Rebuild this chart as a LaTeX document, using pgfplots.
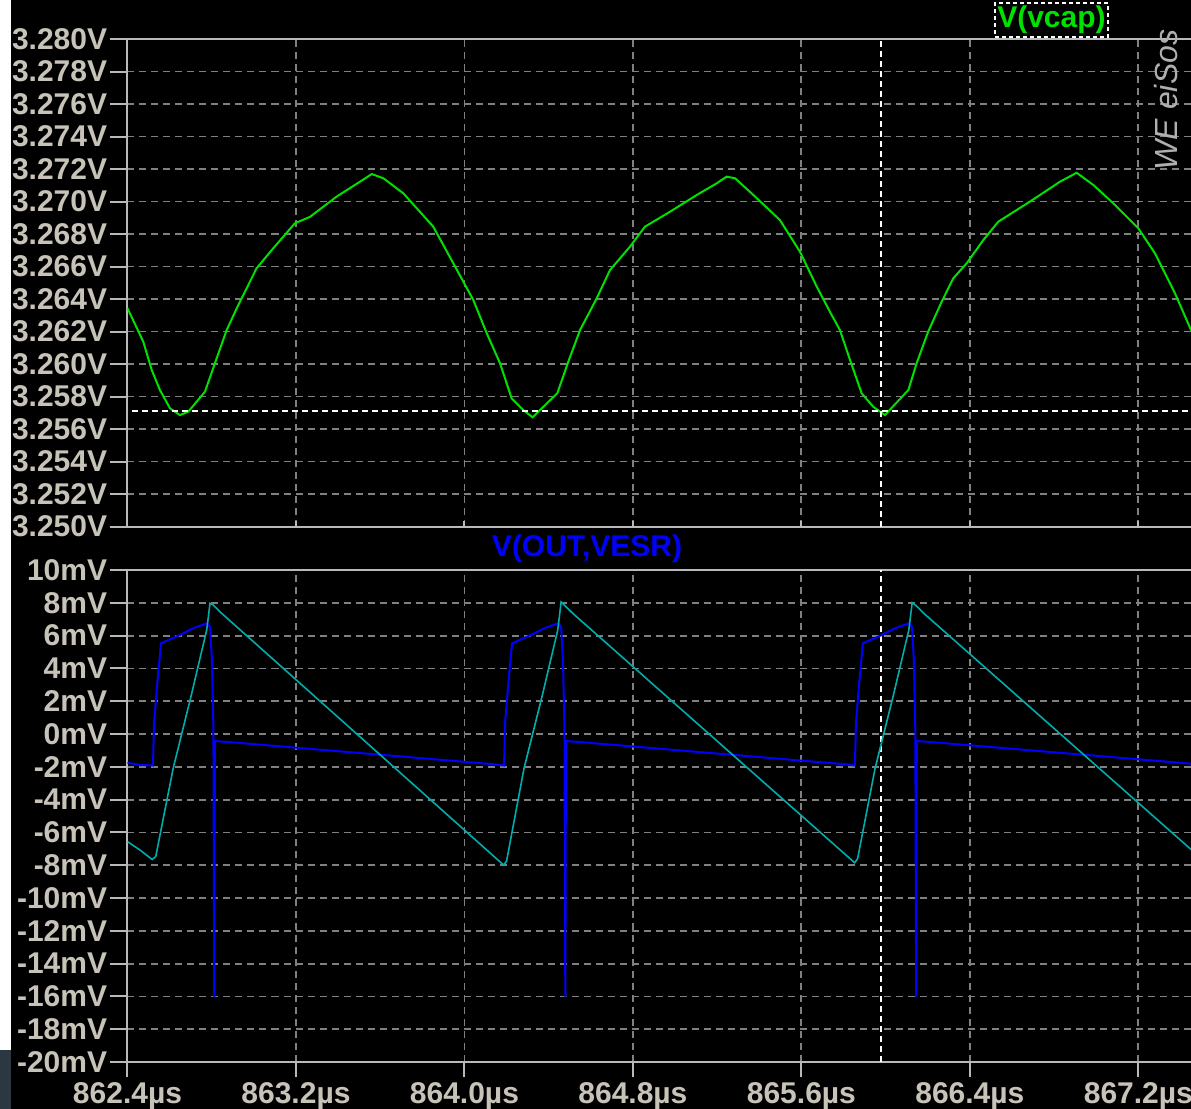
\documentclass[border=0pt]{standalone}
\usepackage{fontspec}
\setmainfont{Liberation Sans}
\usepackage{pgfplots}
\pgfplotsset{compat=1.18}
\definecolor{axisgray}{RGB}{185,185,185}
\definecolor{gridgray}{RGB}{128,128,128}
\definecolor{ticktxt}{RGB}{200,195,185}
\definecolor{vgreen}{RGB}{0,225,0}
\definecolor{vblue}{RGB}{0,0,255}
\definecolor{vcyan}{RGB}{0,172,172}
\definecolor{wetxt}{RGB}{175,175,175}
\definecolor{slate}{RGB}{45,55,65}

\pgfplotstableread{
t v
862.400 3.26343
862.475 3.26137
862.515 3.25963
862.554 3.25840
862.602 3.25727
862.649 3.25686
862.689 3.25707
862.768 3.25830
862.815 3.26004
862.871 3.26209
862.926 3.26363
863.013 3.26589
863.092 3.26712
863.195 3.26866
863.267 3.26906
863.393 3.27030
863.504 3.27122
863.560 3.27169
863.615 3.27143
863.710 3.27050
863.852 3.26845
863.947 3.26620
864.042 3.26394
864.106 3.26189
864.169 3.26004
864.224 3.25789
864.279 3.25717
864.324 3.25672
864.367 3.25727
864.441 3.25820
864.493 3.26014
864.549 3.26209
864.628 3.26404
864.691 3.26578
864.786 3.26722
864.857 3.26845
864.976 3.26937
865.103 3.27040
865.198 3.27112
865.245 3.27153
865.285 3.27143
865.372 3.27040
865.498 3.26886
865.593 3.26691
865.673 3.26476
865.736 3.26320
865.783 3.26209
865.831 3.26025
865.886 3.25820
865.941 3.25737
865.997 3.25686
866.108 3.25840
866.147 3.26004
866.202 3.26199
866.266 3.26383
866.321 3.26527
866.385 3.26620
866.464 3.26763
866.535 3.26876
866.685 3.26999
866.828 3.27122
866.907 3.27177
866.986 3.27102
867.081 3.26989
867.200 3.26835
867.279 3.26681
867.374 3.26435
867.460 3.26180
}\vcap

\pgfplotstableread{
t v
862.400 -1.75
862.459 -1.89
862.521 -1.92
862.526 0.67
862.540 2.88
862.559 5.53
862.649 6.04
862.712 6.45
862.777 6.75
862.792 6.54
862.801 4.51
862.808 0.24
862.812 -16.04
862.815 -0.43
862.863 -0.47
864.154 -1.86
864.188 -1.92
864.193 0.67
864.207 2.88
864.226 5.53
864.316 6.04
864.379 6.45
864.444 6.75
864.459 6.54
864.468 4.51
864.475 0.24
864.479 -16.04
864.482 -0.43
864.530 -0.47
865.821 -1.86
865.854 -1.92
865.859 0.67
865.873 2.88
865.892 5.53
865.982 6.04
866.045 6.45
866.110 6.75
866.125 6.54
866.134 4.51
866.141 0.24
866.145 -16.04
866.148 -0.43
866.196 -0.47
867.460 -1.82
}\vout

\pgfplotstableread{
t v
862.401 -6.57
862.459 -7.07
862.517 -7.65
862.534 -7.48
862.617 -2.09
862.705 2.48
862.776 6.34
862.792 7.97
862.807 7.87
862.847 7.36
864.186 -7.99
864.200 -7.75
864.283 -2.09
864.372 2.48
864.443 6.34
864.459 8.05
864.474 7.87
864.514 7.36
865.853 -7.85
865.867 -7.60
865.950 -2.09
866.039 2.48
866.110 6.34
866.126 8.00
866.141 7.87
866.181 7.36
867.460 -7.15
}\vesr

\pgfplotsset{
  ltstyle/.style={
    scale only axis, width=532.8pt, xmin=862.4, xmax=867.46,
    axis line style={draw=axisgray, line width=1pt},
    grid=major,
    major grid style={draw=gridgray, line width=0.9pt, dash pattern=on 3.5pt off 2.5pt},
    tick align=outside, tick pos=left, major tick length=9pt,
    tick style={draw=axisgray, line width=1pt},
    xtick={862.4,863.2,864.0,864.8,865.6,866.4,867.2},
    ticklabel style={font=\fontsize{15}{15}\selectfont\bfseries, text=ticktxt},
    yticklabel style={inner sep=1pt},
    xticklabel style={inner sep=1pt},
    clip=true,
  },
  cursor/.style={draw=white, line width=1pt, dash pattern=on 3pt off 2pt},
}

\begin{document}
\begin{tikzpicture}
\useasboundingbox (0,0) rectangle (595.5pt,-554.5pt);
\clip (0,0) rectangle (595.5pt,-554.5pt);
\fill[black] (0,0) rectangle (595.5pt,-554.5pt);
\fill[white] (0,0) rectangle (5.5pt,-525pt);
\fill[slate] (0,-525pt) rectangle (5.5pt,-554.5pt);

\begin{axis}[ltstyle, at={(63.75pt,-19.5pt)}, anchor=north west,
  height=243.75pt, ymin=3.250, ymax=3.280,
  ytick={3.250,3.252,3.254,3.256,3.258,3.260,3.262,3.264,3.266,3.268,3.270,3.272,3.274,3.276,3.278,3.280},
  yticklabels={3.250V,3.252V,3.254V,3.256V,3.258V,3.260V,3.262V,3.264V,3.266V,3.268V,3.270V,3.272V,3.274V,3.276V,3.278V,3.280V},
  xticklabels={}, xtick align=inside, xtick pos=bottom,
  xtick style={/pgfplots/major tick length=3pt}]
\addplot[vgreen, line width=1pt] table[x=t,y=v] {\vcap};
\addplot[cursor] coordinates {(862.42,3.25713) (867.46,3.25713)};
\addplot[cursor] coordinates {(865.977,3.250) (865.977,3.280)};
\end{axis}

\begin{axis}[ltstyle, at={(63.75pt,-285pt)}, anchor=north west,
  height=246pt, ymin=-20, ymax=10,
  ytick={-20,-18,-16,-14,-12,-10,-8,-6,-4,-2,0,2,4,6,8,10},
  yticklabels={-20mV,-18mV,-16mV,-14mV,-12mV,-10mV,-8mV,-6mV,-4mV,-2mV,0mV,2mV,4mV,6mV,8mV,10mV},
  xticklabels={862.4µs,863.2µs,864.0µs,864.8µs,865.6µs,866.4µs,867.2µs},
  xtick style={/pgfplots/major tick length=7.5pt}]
\addplot[cursor] coordinates {(865.977,-20) (865.977,10)};
\addplot[vblue, line width=1pt] table[x=t,y=v] {\vout};
\addplot[vcyan, line width=0.8pt] table[x=t,y=v] {\vesr};
\end{axis}

\node[text=vgreen, font=\fontsize{15}{15}\selectfont\bfseries, draw=white,
  dash pattern=on 2pt off 1.5pt, line width=0.8pt, inner sep=0pt,
  minimum width=56.5pt, minimum height=17pt] at (525.75pt,-10pt) {V(vcap)};
\node[text=vblue, font=\fontsize{15}{15}\selectfont\bfseries] at (293.5pt,-274.5pt) {V(OUT,VESR)};
\node[text=wetxt, rotate=90, font=\fontsize{16}{16}\selectfont\itshape] at (583pt,-50pt) {WE eiSos};
\end{tikzpicture}
\end{document}
